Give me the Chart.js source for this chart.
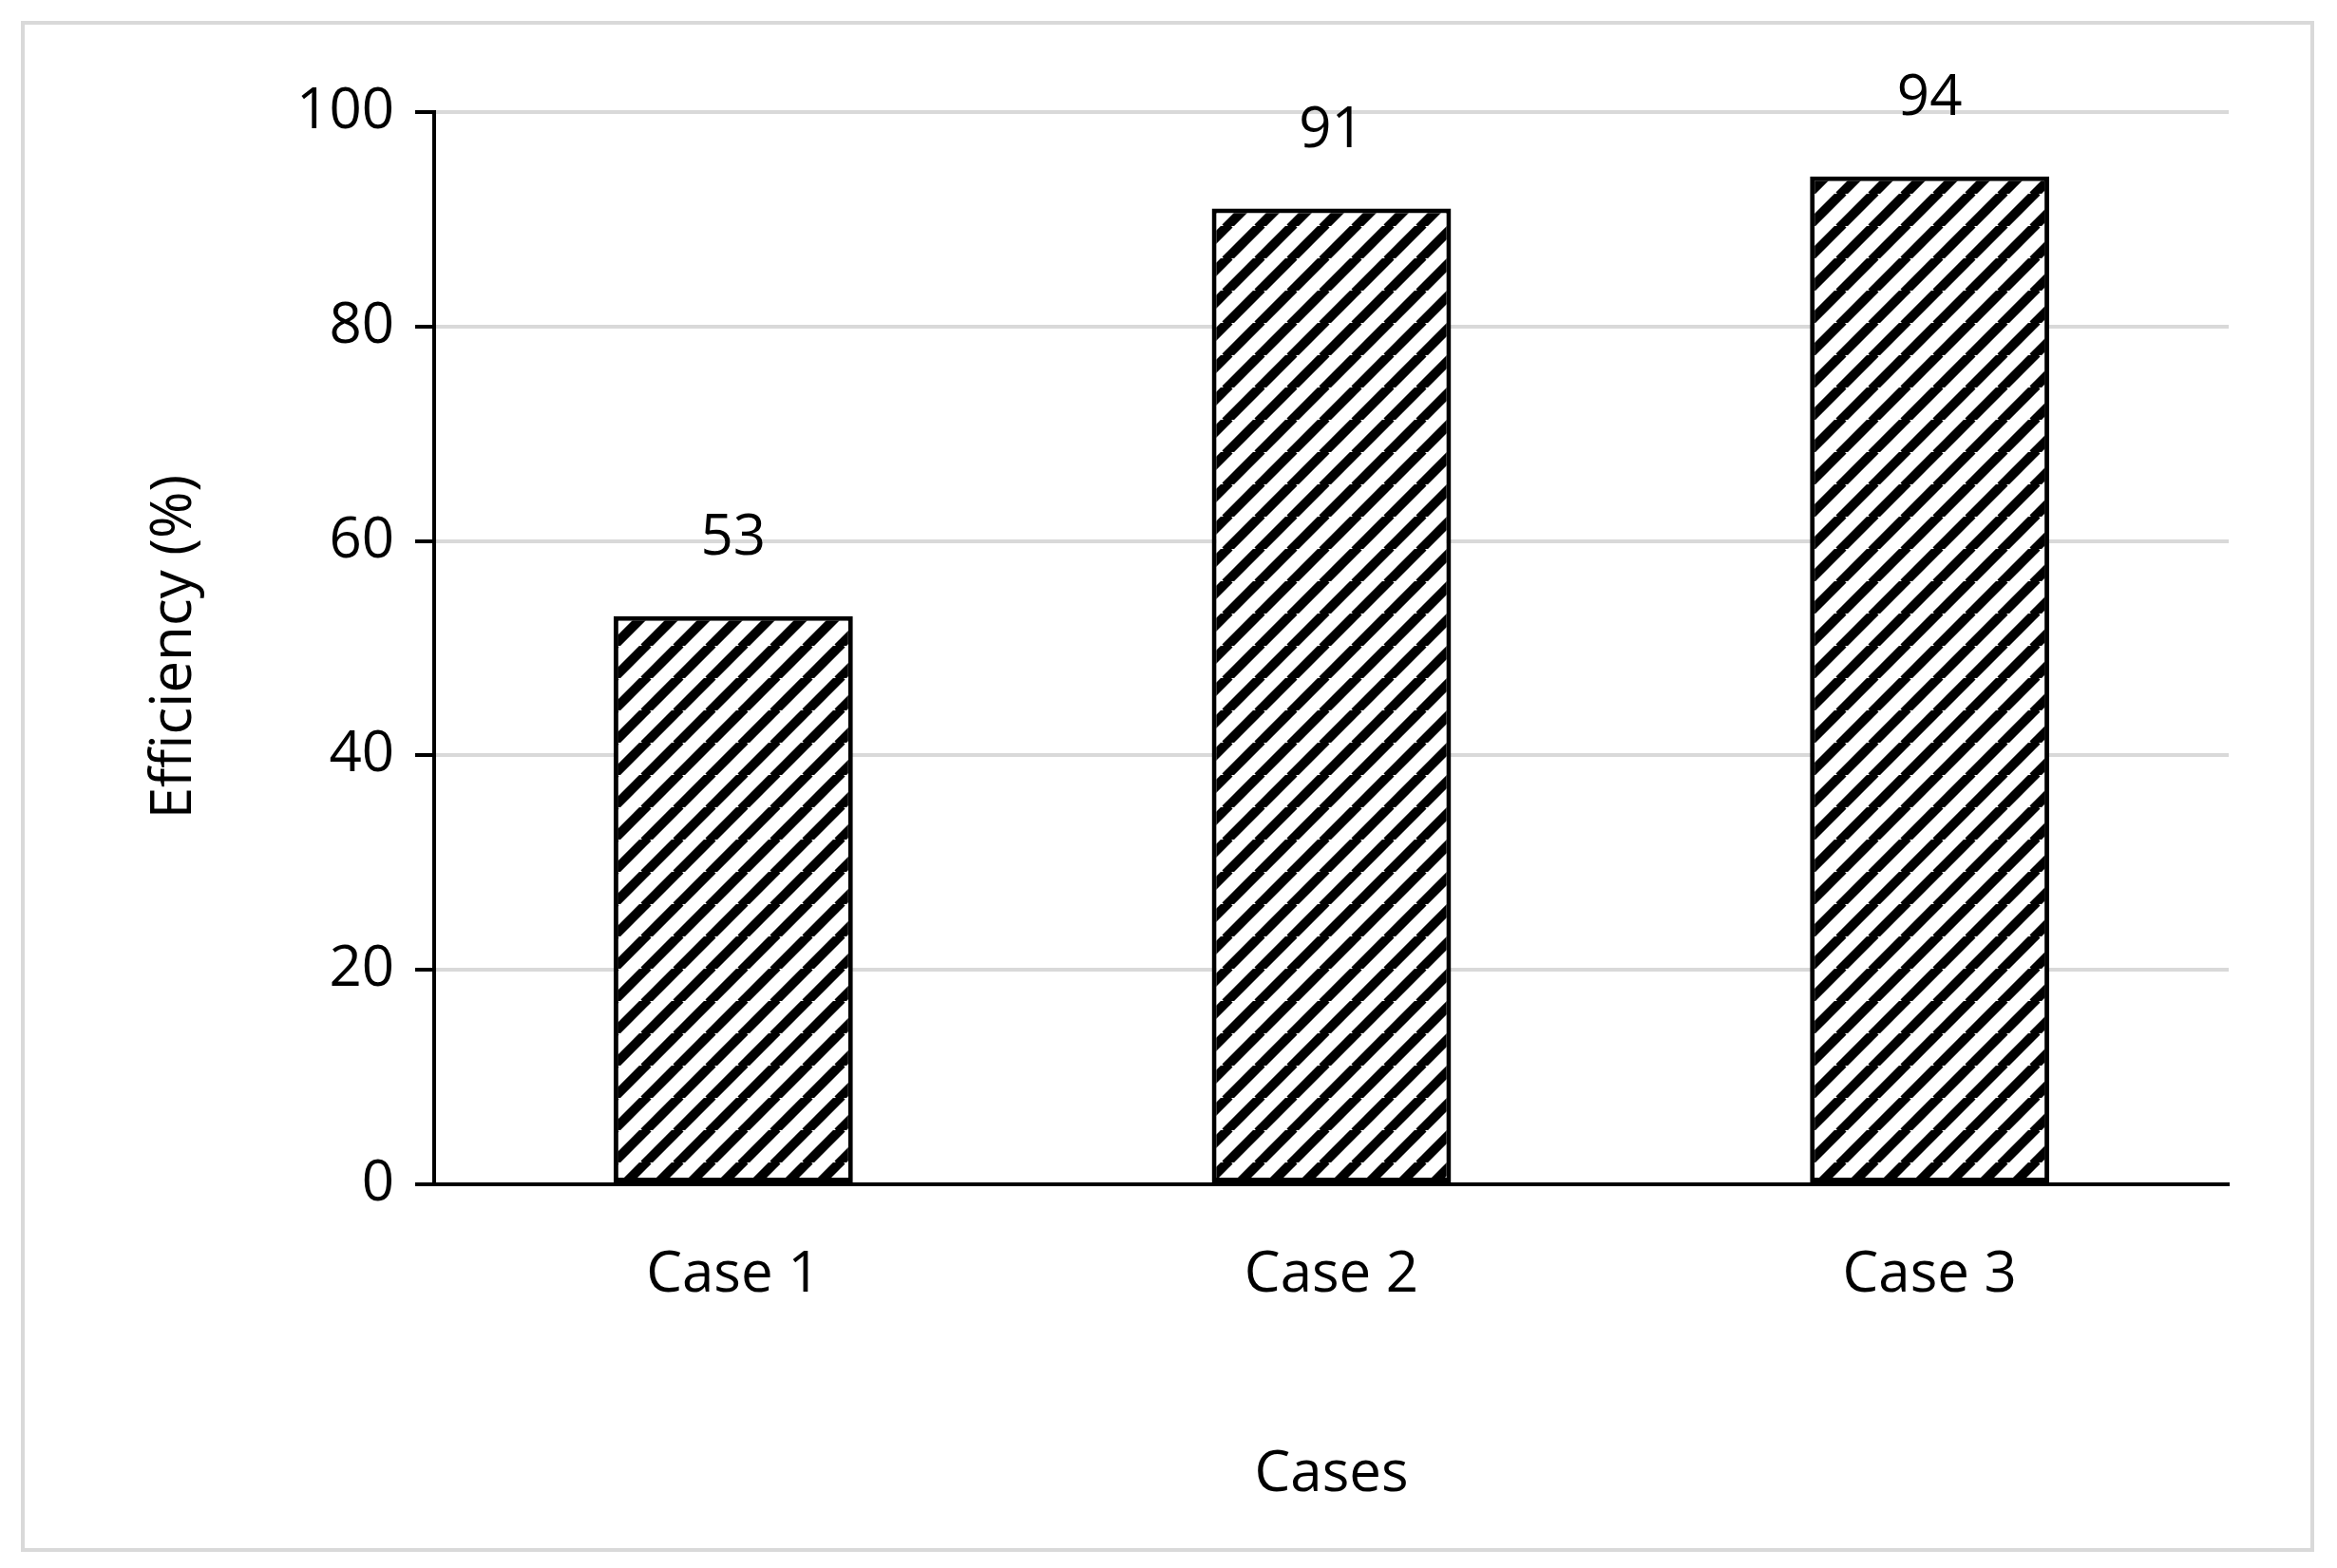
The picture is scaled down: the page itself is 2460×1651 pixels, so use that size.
<!DOCTYPE html>
<html>
<head>
<meta charset="utf-8">
<script src="https://cdn.jsdelivr.net/npm/chart.js@4"></script>
<style>
  html, body { margin: 0; padding: 0; background: #fff; }
  #wrap { position: relative; width: 2460px; height: 1651px; }
  #frame { position: absolute; left: 22px; top: 22px; width: 2414px; height: 1612px; border: 4px solid #d9d9d9; box-sizing: border-box; }
  canvas { position: absolute; left: 0; top: 0; }
</style>
</head>
<body>
<div id="wrap">
  <div id="frame"></div>
  <canvas id="chartElem" width="2460" height="1651"></canvas>
</div>
<script>
// Data
const categories = ['Case 1', 'Case 2', 'Case 3'];
const efficiency = [53, 91, 94];
const yTicks = [0, 20, 40, 60, 80, 100];

const FONT = '"Open Sans", "Liberation Sans", sans-serif';

// Diagonal hatch pattern
const makeHatch = () => {
    const size = 34;
    const c = document.createElement('canvas');
    c.width = size; c.height = size;
    const g = c.getContext('2d');
    g.fillStyle = '#fff';
    g.fillRect(0, 0, size, size);
    g.strokeStyle = '#000';
    g.lineWidth = 10;
    g.beginPath();
    for (let k = -1; k <= 1; k++) {
        g.moveTo(k * size - 2, size + 2);
        g.lineTo(k * size + size + 2, -2);
    }
    g.stroke();
    return g.createPattern(c, 'repeat');
};

// Value labels and axis titles
const labelsPlugin = {
    id: 'labels',
    afterDatasetsDraw(chart) {
        const ctx = chart.ctx;
        ctx.save();
        ctx.fillStyle = '#000';
        ctx.font = `60px ${FONT}`;
        ctx.textAlign = 'center';
        ctx.textBaseline = 'middle';
        chart.getDatasetMeta(0).data.forEach((bar, i) => {
            ctx.fillText(String(efficiency[i]), bar.x, bar.y - 82);
        });
        const area = chart.chartArea;
        ctx.fillText('Cases', (area.left + area.right) / 2, 1553);
        ctx.translate(184, 681);
        ctx.rotate(-Math.PI / 2);
        ctx.fillText('Efficiency (%)', 0, 0);
        ctx.restore();
    }
};

const chartElem = document.getElementById('chartElem');
const chart = new Chart(chartElem, {
    type: 'bar',
    data: {
        labels: categories,
        datasets: [{
            data: efficiency,
            backgroundColor: makeHatch(),
            borderColor: '#000',
            borderWidth: 5,
            borderSkipped: false,
            categoryPercentage: 0.4,
            barPercentage: 1
        }]
    },
    options: {
        responsive: false,
        animation: false,
        devicePixelRatio: 1,
        layout: { padding: { left: 0, right: 114, top: 118, bottom: 0 } },
        scales: {
            x: {
                grid: { display: false, drawTicks: false },
                border: { color: '#000', width: 4 },
                ticks: { color: '#000', font: { family: FONT, size: 60 }, padding: 60 },
                afterFit: (s) => { s.height = 404; }
            },
            y: {
                min: 0, max: 100,
                afterBuildTicks: (s) => { s.ticks = yTicks.map(v => ({ value: v })); },
                grid: { color: '#d9d9d9', lineWidth: 4, tickColor: '#000', tickLength: 20 },
                border: { color: '#000', width: 4 },
                ticks: { color: '#000', font: { family: FONT, size: 60 }, padding: 22 },
                afterFit: (s) => { s.width = 457; }
            }
        },
        plugins: { legend: { display: false }, tooltip: { enabled: false } }
    },
    plugins: [labelsPlugin]
});
</script>
</body>
</html>
